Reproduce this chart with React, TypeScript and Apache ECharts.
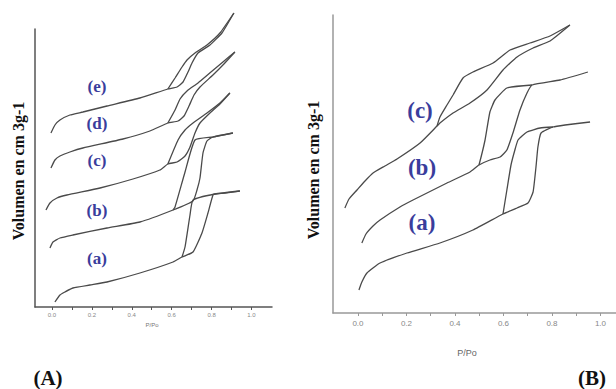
import React, { useEffect, useRef } from 'react';
import * as echarts from 'echarts';

// x tick values shared by both panels
const X_TICKS = [0, 0.2, 0.4, 0.6, 0.8, 1.0];
const X_MINOR = [0, 0.1, 0.2, 0.3, 0.4, 0.5, 0.6, 0.7, 0.8, 0.9, 1.0];

// ---------- Panel (A): [P/Po, volume (arbitrary units)] ----------
const A_a_ads = [[0.015, 5], [0.04, 12], [0.065, 15], [0.105, 19], [0.19, 22], [0.276, 25], [0.441, 34], [0.607, 45], [0.652, 50], [0.707, 55], [0.752, 74], [0.782, 94], [0.807, 112], [0.817, 113], [0.867, 114], [0.942, 116]];
const A_a_des = [[0.942, 116], [0.817, 113], [0.707, 107], [0.692, 92], [0.667, 60], [0.652, 50]];

const A_b_ads = [[-0.01, 59], [0.005, 65], [0.04, 69], [0.105, 72], [0.276, 79], [0.441, 85], [0.607, 97], [0.707, 106], [0.727, 117], [0.742, 129], [0.757, 154], [0.777, 166], [0.807, 170], [0.907, 174]];
const A_b_des = [[0.907, 174], [0.807, 170], [0.717, 167], [0.667, 135], [0.617, 100], [0.607, 97]];

const A_c_ads = [[-0.03, 97], [-0.01, 104], [0.025, 109], [0.075, 112], [0.241, 119], [0.406, 128], [0.541, 137], [0.581, 143], [0.627, 145], [0.667, 151], [0.692, 160], [0.717, 174], [0.742, 184], [0.792, 194], [0.842, 203], [0.892, 214]];
const A_c_des = [[0.892, 214], [0.842, 204], [0.777, 194], [0.707, 184], [0.667, 177], [0.632, 167], [0.581, 143]];

const A_d_ads = [[-0.005, 139], [0.015, 147], [0.04, 151], [0.09, 155], [0.155, 159], [0.356, 168], [0.491, 176], [0.581, 184], [0.632, 186], [0.662, 191], [0.687, 201], [0.712, 212], [0.742, 220], [0.807, 232], [0.862, 243], [0.917, 255]];
const A_d_des = [[0.917, 255], [0.857, 245], [0.797, 235], [0.732, 224], [0.677, 216], [0.642, 208], [0.617, 197], [0.581, 184]];

const A_e_ads = [[-0.005, 174], [0.015, 182], [0.04, 187], [0.09, 192], [0.155, 195], [0.276, 201], [0.441, 209], [0.581, 218], [0.627, 220], [0.657, 225], [0.682, 235], [0.702, 244], [0.732, 254], [0.792, 262], [0.852, 274], [0.912, 294]];
const A_e_des = [[0.912, 294], [0.842, 274], [0.777, 262], [0.717, 254], [0.677, 247], [0.652, 240], [0.617, 229], [0.581, 218]];

// ---------- Panel (B) ----------
const B_a_ads = [[0.004, 23], [0.016, 31], [0.037, 40], [0.091, 50], [0.202, 60], [0.338, 70], [0.474, 83], [0.598, 99], [0.656, 105], [0.701, 110], [0.722, 121], [0.734, 146], [0.742, 166], [0.755, 180], [0.804, 186], [0.854, 188], [0.957, 191]];
const B_a_des = [[0.804, 186], [0.751, 185], [0.697, 181], [0.66, 173], [0.647, 163], [0.631, 148], [0.614, 123], [0.598, 99]];

const B_b_ads = [[0.016, 70], [0.033, 79], [0.062, 87], [0.091, 93], [0.173, 106], [0.227, 113], [0.367, 130], [0.462, 141], [0.499, 148], [0.544, 153], [0.586, 156], [0.614, 163], [0.639, 180], [0.668, 203], [0.697, 220], [0.718, 228], [0.833, 233], [0.948, 241]];
const B_b_des = [[0.718, 228], [0.614, 225], [0.565, 213], [0.544, 201], [0.524, 173], [0.499, 148]];

const B_c_ads = [[-0.054, 105], [-0.037, 114], [-0.004, 123], [0.029, 132], [0.062, 140], [0.111, 147], [0.161, 154], [0.256, 170], [0.326, 187], [0.338, 190], [0.392, 200], [0.462, 210], [0.532, 223], [0.598, 243], [0.656, 256], [0.722, 265], [0.792, 272], [0.874, 288]];
const B_c_des = [[0.874, 288], [0.792, 277], [0.709, 270], [0.627, 263], [0.557, 250], [0.474, 241], [0.433, 235], [0.392, 218], [0.367, 208], [0.338, 196], [0.326, 187]];

const A_SERIES = [A_a_ads, A_a_des, A_b_ads, A_b_des, A_c_ads, A_c_des, A_d_ads, A_d_des, A_e_ads, A_e_des];
const B_SERIES = [B_a_ads, B_a_des, B_b_ads, B_b_des, B_c_ads, B_c_des];

const A_LABELS = ['(a)', '(b)', '(c)', '(d)', '(e)'];
const B_LABELS = ['(a)', '(b)', '(c)'];
const Y_TITLE = 'Volumen en cm 3g-1';
const X_TITLE = 'P/Po';

const SERIF = '"Liberation Serif", "Times New Roman", serif';
const BLUE = '#3a3d9c';

export default function App() {
  const ref = useRef<HTMLDivElement>(null);
  useEffect(() => {
    if (!ref.current) return;
    const chart = echarts.init(ref.current, null, { renderer: 'svg' });

    const line = (data: number[][], idx: number) => ({
      type: 'line',
      data,
      xAxisIndex: idx,
      yAxisIndex: idx,
      symbol: 'none',
      clip: false,
      smooth: 0.15,
      lineStyle: { color: '#4a4a4a', width: 1.3 },
    });

    const xAxisBase = (idx: number, min: number, max: number, fs: number, margin: number, color: string) => ({
      type: 'value',
      gridIndex: idx,
      min,
      max,
      splitLine: { show: false },
      axisLine: { show: true, onZero: false, lineStyle: { color, width: 1.5 } },
      axisTick: { show: true, customValues: X_MINOR, length: 3, lineStyle: { color } },
      axisLabel: {
        show: true,
        customValues: X_TICKS,
        formatter: (v: number) => v.toFixed(1),
        fontSize: fs,
        color: '#888',
        margin,
        fontFamily: '"Liberation Sans", sans-serif',
      },
    });

    const yAxisBase = (idx: number, max: number, color: string) => ({
      type: 'value',
      gridIndex: idx,
      min: 0,
      max,
      splitLine: { show: false },
      axisLine: { show: true, onZero: false, lineStyle: { color, width: 1.5 } },
      axisTick: { show: false },
      axisLabel: { show: false },
    });

    const txt = (text: string, x: number, y: number, font: string, fill: string, rotation = 0) => ({
      type: 'text',
      x,
      y,
      rotation,
      style: { text, font, fill, align: 'center', verticalAlign: 'middle' },
    });

    const aPos = [[97, 258], [97, 210], [97, 160], [97, 123], [97, 86]];
    const bPos = [[422, 222], [422, 167], [420, 110]];

    chart.setOption({
      animation: false,
      backgroundColor: '#fff',
      grid: [
        { left: 35, top: 29, width: 237, height: 278 },
        { left: 333, top: 15, width: 283, height: 298 },
      ],
      xAxis: [
        xAxisBase(0, -0.085, 1.103, 6, 5, '#555'),
        xAxisBase(1, -0.103, 1.064, 8, 6, '#999'),
      ],
      yAxis: [yAxisBase(0, 278, '#555'), yAxisBase(1, 298, '#999')],
      series: [
        ...A_SERIES.map((d) => line(d, 0)),
        ...B_SERIES.map((d) => line(d, 1)),
      ],
      graphic: [
        txt(Y_TITLE, 18, 171, `bold 16px ${SERIF}`, '#111', Math.PI / 2),
        txt(Y_TITLE, 313, 170, `bold 16px ${SERIF}`, '#111', Math.PI / 2),
        txt(X_TITLE, 152, 325, `6px "Liberation Sans", sans-serif`, '#777'),
        txt(X_TITLE, 467, 353, `9px "Liberation Sans", sans-serif`, '#666'),
        ...A_LABELS.map((t, i) => txt(t, aPos[i][0], aPos[i][1], `bold 17px ${SERIF}`, BLUE)),
        ...B_LABELS.map((t, i) => txt(t, bPos[i][0], bPos[i][1], `bold 23px ${SERIF}`, BLUE)),
        txt('(A)', 48, 378, `bold 21px ${SERIF}`, '#111'),
        txt('(B)', 592, 378, `bold 21px ${SERIF}`, '#111'),
      ],
    });
    return () => chart.dispose();
  }, []);
  return <div ref={ref} style={{ position: 'fixed', left: 0, top: 0, width: 616, height: 389 }} />;
}
